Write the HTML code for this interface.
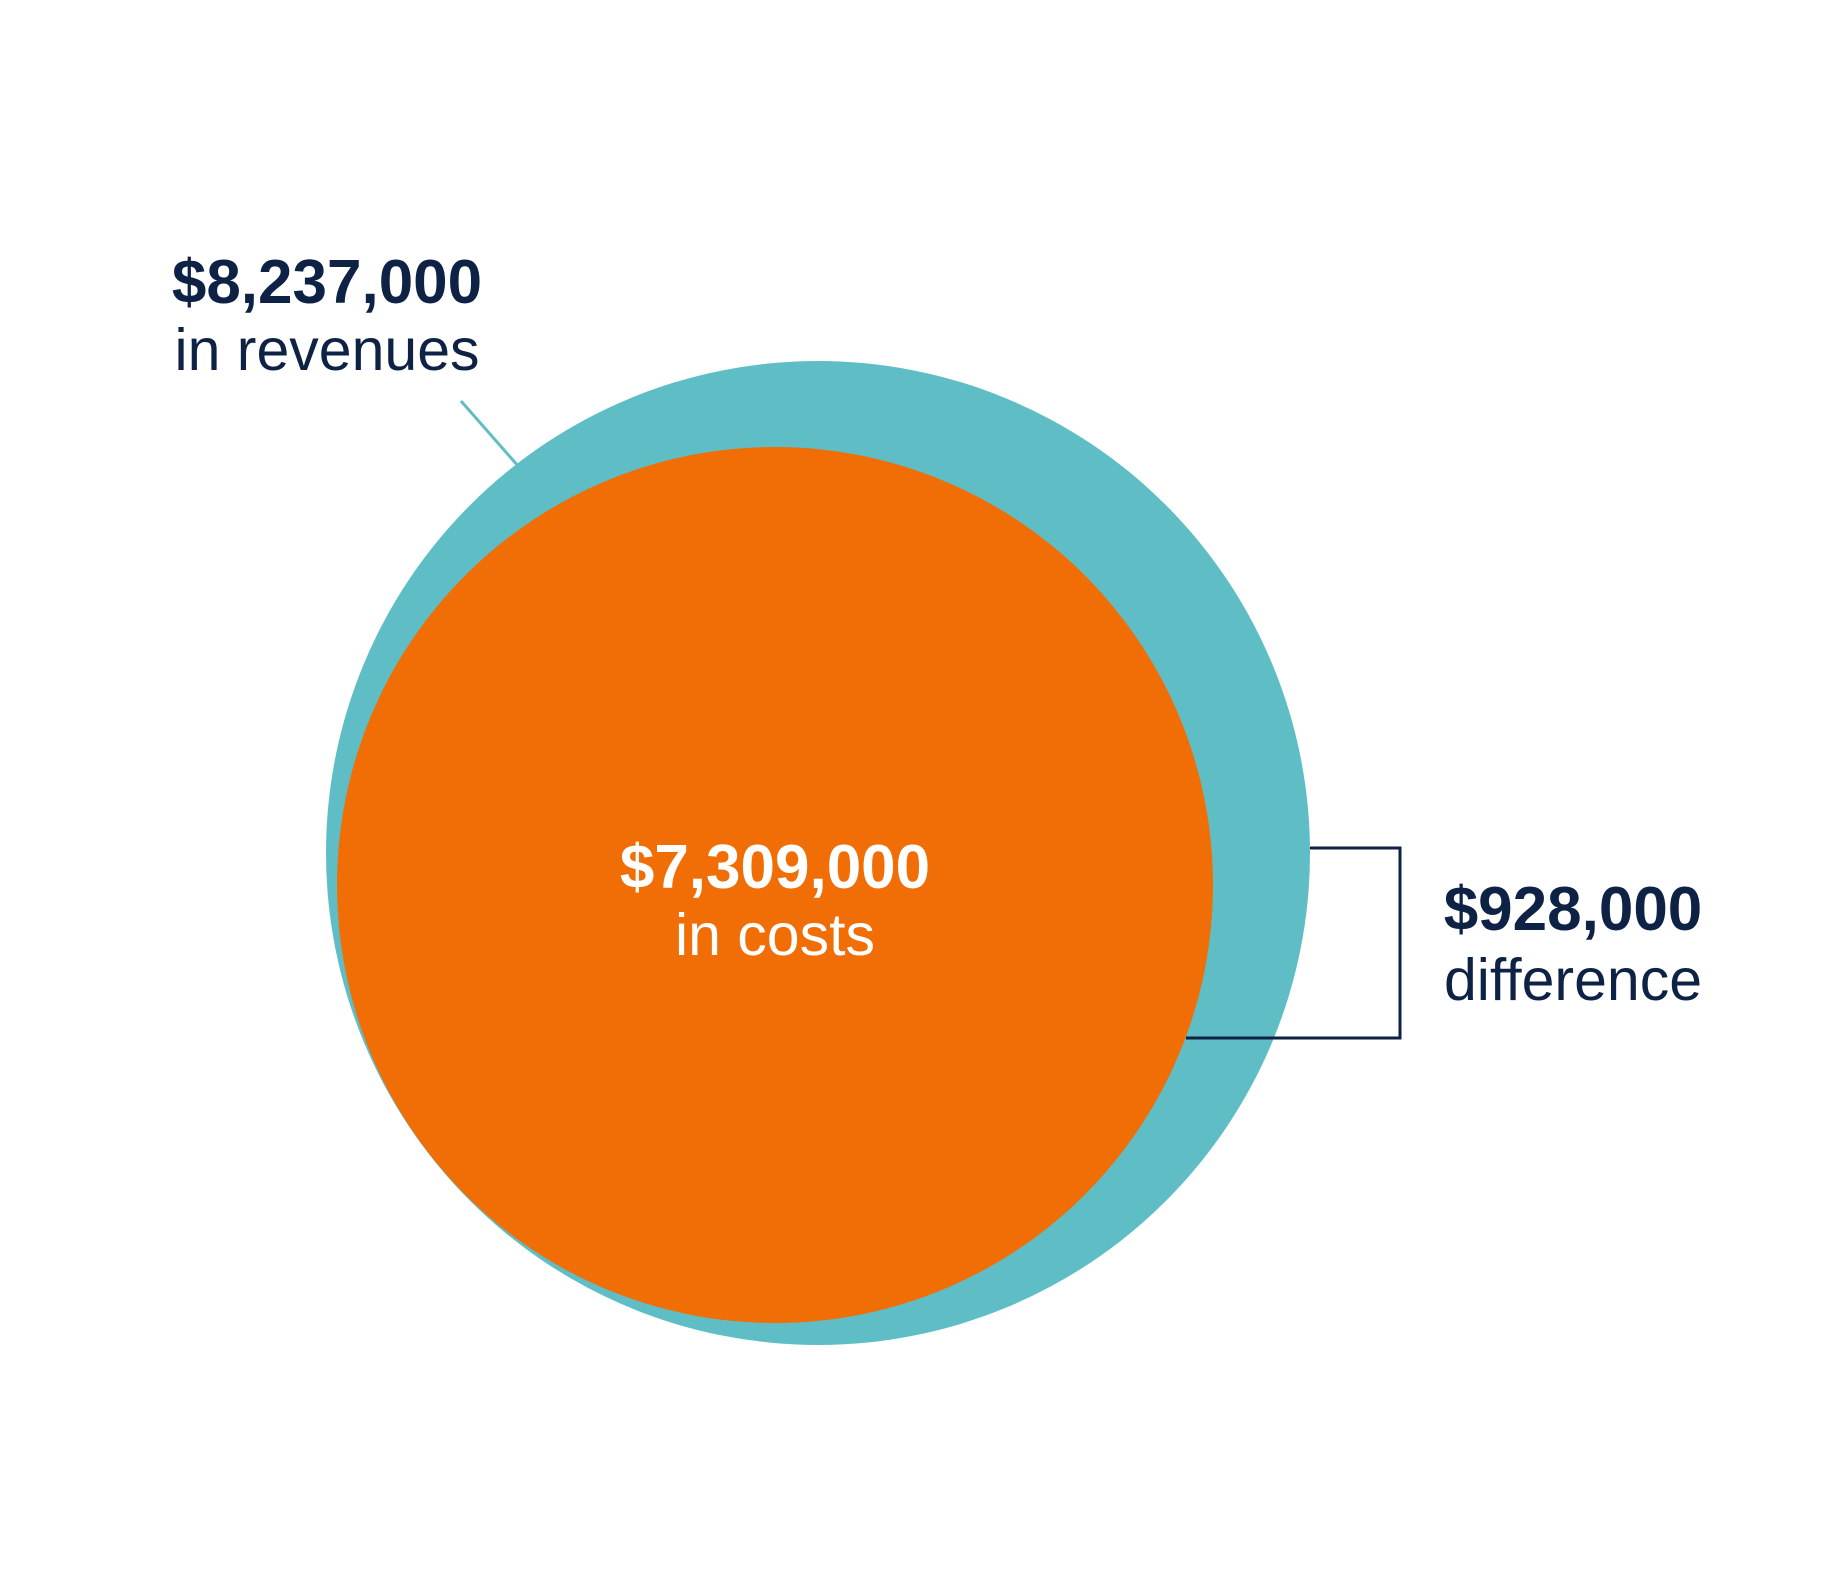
<!DOCTYPE html>
<html><head><meta charset="utf-8"><style>
html,body{margin:0;padding:0;background:#fff;}
svg{display:block;}
text{font-family:"Liberation Sans",Arial,sans-serif;}
</style></head><body>
<svg width="1825" height="1583" viewBox="0 0 1825 1583" xmlns="http://www.w3.org/2000/svg">
<rect width="1825" height="1583" fill="#fff"/>
<circle cx="818" cy="853" r="492" fill="#5fbec5"/>
<circle cx="775" cy="885" r="438" fill="#f06e05"/>
<line x1="461" y1="401" x2="519" y2="467" stroke="#5fbec5" stroke-width="3"/>
<polyline points="1310,848 1400,848 1400,1038 1186,1038" fill="none" stroke="#0e2245" stroke-width="3"/>
<g fill="#0e2245" text-anchor="middle">
<text x="327" y="303" font-size="62" font-weight="bold">$8,237,000</text>
<text x="327" y="370" font-size="59">in revenues</text>
<text x="1573" y="930" font-size="62" font-weight="bold">$928,000</text>
<text x="1573" y="1000" font-size="59">difference</text>
</g>
<g fill="#fff" text-anchor="middle">
<text x="775" y="888" font-size="62" font-weight="bold">$7,309,000</text>
<text x="775" y="955" font-size="59">in costs</text>
</g>
</svg>
</body></html>
